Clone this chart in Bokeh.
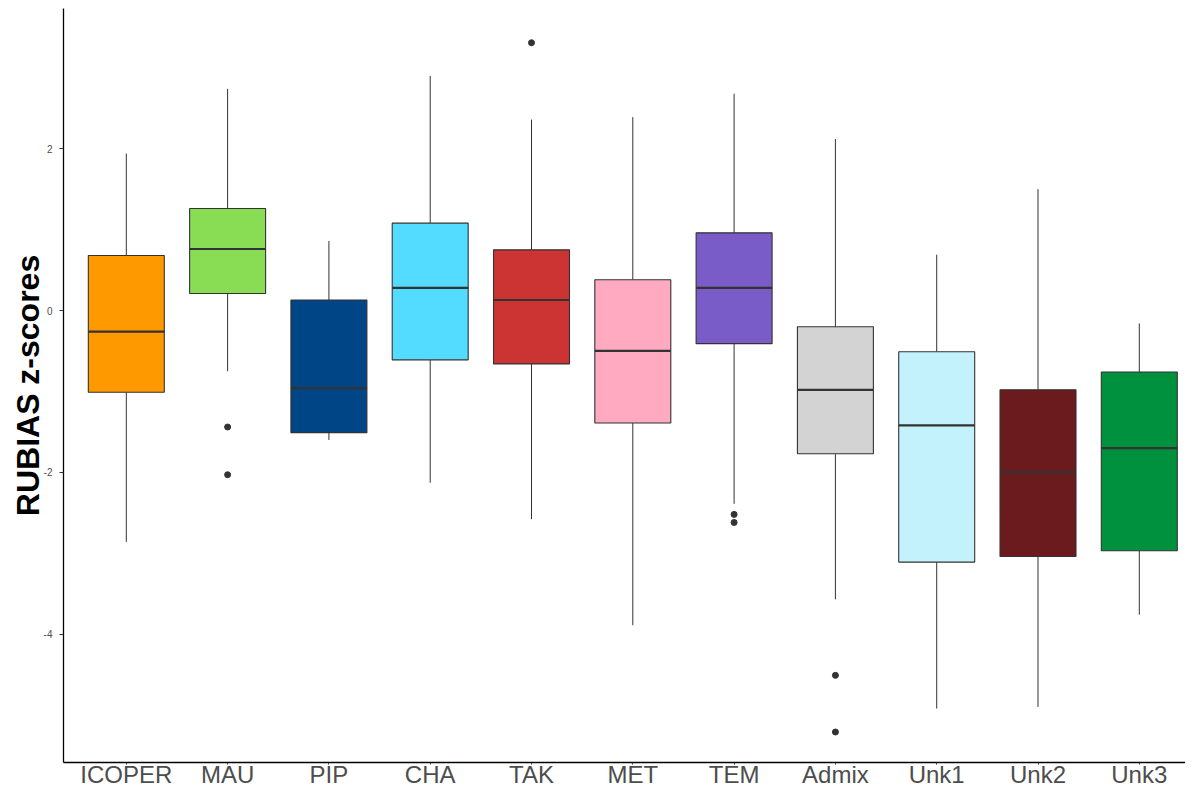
from bokeh.plotting import figure
from bokeh.models import Range1d, FixedTicker, ColumnDataSource
from bokeh.transform import dodge
from bokeh.embed import file_html
from bokeh.resources import INLINE

categories = ["ICOPER", "MAU", "PIP", "CHA", "TAK", "MET", "TEM", "Admix", "Unk1", "Unk2", "Unk3"]
upper_whisker = [1.94, 2.74, 0.86, 2.90, 2.36, 2.39, 2.68, 2.12, 0.69, 1.50, -0.16]
q3 = [0.68, 1.26, 0.13, 1.08, 0.75, 0.38, 0.96, -0.20, -0.51, -0.98, -0.76]
median = [-0.26, 0.76, -0.96, 0.28, 0.13, -0.50, 0.28, -0.98, -1.42, -2.00, -1.70]
q1 = [-1.01, 0.21, -1.51, -0.61, -0.66, -1.39, -0.41, -1.77, -3.11, -3.04, -2.97]
lower_whisker = [-2.86, -0.75, -1.60, -2.13, -2.58, -3.89, -2.39, -3.57, -4.92, -4.90, -3.76]
outlier_cat = ["MAU", "MAU", "TAK", "TEM", "TEM", "Admix", "Admix"]
outlier_val = [-1.44, -2.03, 3.31, -2.52, -2.62, -4.51, -5.21]
colors = ["#FF9900", "#88DD55", "#004586", "#53DCFF", "#CC3333", "#FFAAC1",
          "#795CC8", "#D3D3D3", "#C4F2FC", "#6B1A1E", "#00913F"]
y_ticks = [-4, -2, 0, 2]

xpos = list(range(1, len(categories) + 1))
src = ColumnDataSource(dict(x=xpos, lo=lower_whisker, hi=upper_whisker, q1=q1, q3=q3,
                            med=median, color=colors))
osrc = ColumnDataSource(dict(x=[categories.index(c) + 1 for c in outlier_cat], y=outlier_val))

p = figure(width=1185, height=790, output_backend="svg", toolbar_location=None,
           x_range=Range1d(0.38, 11.456), y_range=Range1d(-5.587, 3.733),
           min_border_left=63, min_border_right=0, min_border_top=8, min_border_bottom=25)

line_col = "#333333"
# whiskers
p.segment(x0="x", y0="q3", x1="x", y1="hi", source=src, line_color=line_col, line_width=1)
p.segment(x0="x", y0="q1", x1="x", y1="lo", source=src, line_color=line_col, line_width=1)
# boxes
p.vbar(x="x", width=0.75, bottom="q1", top="q3", source=src, fill_color="color",
       line_color=line_col, line_width=1.1)
# medians
p.segment(x0=dodge("x", -0.375), x1=dodge("x", 0.375), y0="med", y1="med", source=src,
          line_color=line_col, line_width=2.2)
# outliers
p.scatter(x="x", y="y", source=osrc, size=6, fill_color=line_col, line_color=line_col)

p.xgrid.visible = False
p.ygrid.visible = False
p.outline_line_color = None
p.background_fill_color = "white"
p.border_fill_color = "white"

xa = p.xaxis[0]
xa.ticker = FixedTicker(ticks=xpos)
xa.major_label_overrides = {i + 1: c for i, c in enumerate(categories)}
xa.minor_tick_line_color = None
xa.major_tick_in = 0
xa.major_tick_out = 2
xa.major_tick_line_color = line_col
xa.axis_line_color = "black"
xa.axis_line_width = 1.3
xa.major_label_text_font = "Liberation Sans"
xa.major_label_text_font_size = "24px"
xa.major_label_text_color = "#4D4D4D"
xa.major_label_standoff = -4

ya = p.yaxis[0]
ya.ticker = FixedTicker(ticks=y_ticks)
ya.major_label_overrides = {t: str(t) for t in y_ticks}
ya.minor_tick_line_color = None
ya.major_tick_in = 0
ya.major_tick_out = 4
ya.major_tick_line_color = line_col
ya.axis_line_color = "black"
ya.axis_line_width = 1.3
ya.major_label_text_font = "Liberation Sans"
ya.major_label_text_font_size = "10px"
ya.major_label_text_color = "#4D4D4D"
ya.major_label_standoff = 7
ya.axis_label = "RUBIAS z-scores"
ya.axis_label_text_font = "Liberation Sans"
ya.axis_label_text_font_style = "bold"
ya.axis_label_text_font_size = "32px"
ya.axis_label_text_color = "black"
ya.axis_label_standoff = -5

open("out.html", "w").write(file_html(p, INLINE))
